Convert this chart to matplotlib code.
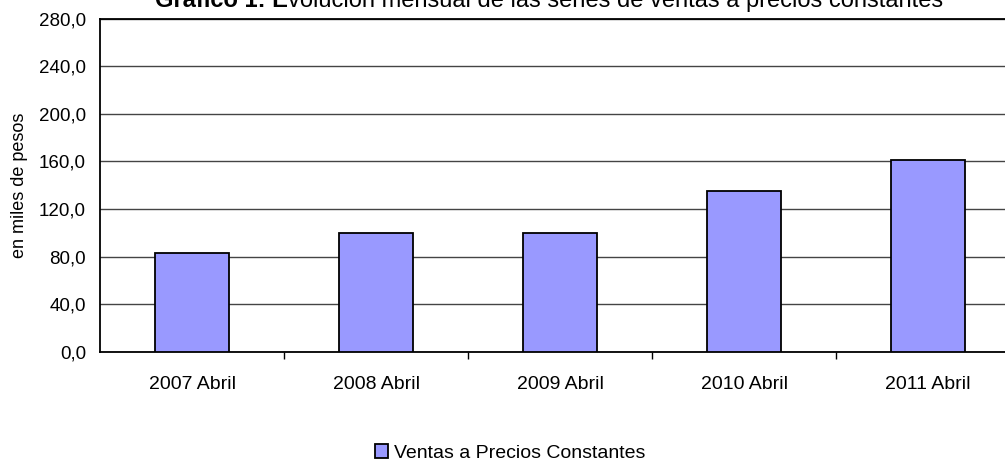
import matplotlib.pyplot as plt

plt.rcParams['font.family'] = ['Liberation Sans', 'DejaVu Sans']

categorias = ['2007 Abril', '2008 Abril', '2009 Abril', '2010 Abril', '2011 Abril']
ventas = [83.0, 99.5, 99.7, 135.5, 161.1]
y_ticks = [0, 40, 80, 120, 160, 200, 240, 280]

fig = plt.figure(figsize=(10.05, 4.62), dpi=100)
# axes run past the right edge of the figure, like the original
ax = fig.add_axes([100 / 1005, 1 - 352 / 462, 920 / 1005, 333.5 / 462])

x = range(len(categorias))
ax.bar(x, ventas, width=0.4, color='#9999FF', edgecolor='black', linewidth=1.3,
       zorder=3, label='Ventas a Precios Constantes')

ax.set_xlim(-0.5, 4.5)
ax.set_ylim(0, 280)
ax.set_yticks(y_ticks)
ax.set_yticklabels([f'{v:.1f}'.replace('.', ',') for v in y_ticks], fontsize=13.5)
ax.yaxis.grid(True, color='#444444', linewidth=1, zorder=0)
ax.tick_params(axis='y', length=0, pad=10)

ax.set_xticks(list(x))
ax.set_xticklabels(categorias, fontsize=14)
ax.set_xticks([i + 0.5 for i in range(4)], minor=True)
ax.tick_params(axis='x', which='major', length=0, pad=17)
ax.tick_params(axis='x', which='minor', length=5, width=1, direction='out')

for s in ['left', 'bottom', 'top']:
    ax.spines[s].set_linewidth(1.3)
ax.spines['right'].set_visible(False)

ax.set_ylabel('en miles de pesos', fontsize=13, labelpad=8)

t = fig.text(155 / 1005, 1 - 7 / 462, 'Gráfico 1: E', fontsize=17, fontweight='bold',
             va='baseline', ha='left')
fig.canvas.draw()
ax.annotate('volución mensual de las series de ventas a precios constantes',
            xy=(1, 0), xycoords=t, va='bottom', ha='left', fontsize=17,
            annotation_clip=False)

fig.legend(loc='center', bbox_to_anchor=(510 / 1005, 1 - 453 / 462), frameon=False,
           fontsize=14, handlelength=0.7, handleheight=0.7, handletextpad=0.3,
           borderpad=0, borderaxespad=0)

fig.savefig('out.png', dpi=100)
